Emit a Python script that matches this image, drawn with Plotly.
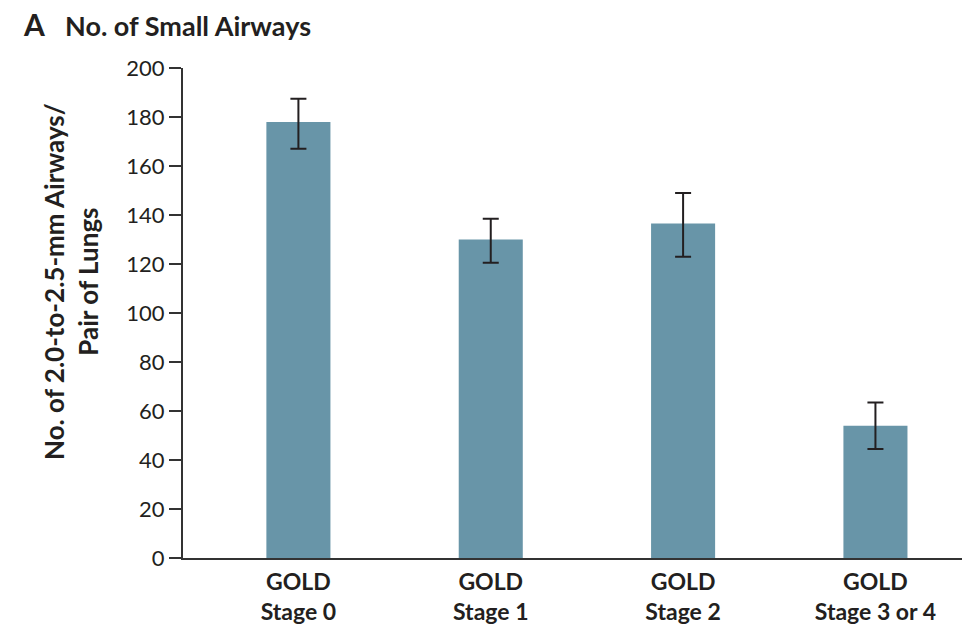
import plotly.graph_objects as go

# Small-airway counts by GOLD stage (mean with SE)
categories = ["GOLD<br>Stage 0", "GOLD<br>Stage 1", "GOLD<br>Stage 2", "GOLD<br>Stage 3 or 4"]
airways = [178, 130, 136.5, 54]
err_plus = [9.5, 8.5, 12.5, 9.5]
err_minus = [11, 9.5, 13.5, 9.5]
y_ticks = [0, 20, 40, 60, 80, 100, 120, 140, 160, 180, 200]

FONT = "Lato"
INK = "#231f20"

fig = go.Figure(
    go.Bar(
        x=list(range(len(categories))),
        y=airways,
        width=0.333,
        marker=dict(color="#6895a8", line=dict(width=0)),
        error_y=dict(
            type="data",
            symmetric=False,
            array=err_plus,
            arrayminus=err_minus,
            color=INK,
            thickness=2,
            width=8,
        ),
    )
)

fig.update_layout(
    width=962,
    height=630,
    margin=dict(l=183, r=0, t=68, b=72),
    plot_bgcolor="white",
    paper_bgcolor="white",
    showlegend=False,
    font=dict(family=FONT, color=INK, size=21),
    xaxis=dict(
        range=[-0.6, 3.45],
        tickmode="array",
        tickvals=list(range(len(categories))),
        ticktext=[f"<b>{c}</b>" for c in categories],
        ticks="",
        showline=True,
        linecolor="#333333",
        linewidth=2,
        showgrid=False,
        zeroline=False,
        tickfont=dict(family=FONT, size=23, color=INK),
        ticklabelstandoff=2,
    ),
    yaxis=dict(
        range=[0, 200],
        tickmode="array",
        tickvals=y_ticks,
        ticks="outside",
        ticklen=12,
        tickwidth=2,
        tickcolor="#333333",
        showline=True,
        linecolor="#333333",
        linewidth=2,
        showgrid=False,
        zeroline=False,
        tickfont=dict(family=FONT, size=22, color=INK),
    ),
    annotations=[
        dict(
            text="<b>A</b>",
            xref="paper", yref="paper",
            x=(21 - 183) / 779, y=1 + (68 - 24) / 490,
            xanchor="left", yanchor="middle",
            showarrow=False,
            font=dict(family=FONT, size=30, color=INK),
        ),
        dict(
            text="<b>No. of Small Airways</b>",
            xref="paper", yref="paper",
            x=(63 - 183) / 779, y=1 + (68 - 25) / 490,
            xanchor="left", yanchor="middle",
            showarrow=False,
            font=dict(family=FONT, size=27, color=INK),
        ),
        dict(
            text="<b>No. of 2.0-to-2.5-mm Airways/<br>Pair of Lungs</b>",
            xref="paper", yref="paper",
            x=(71 - 183) / 779, y=(558 - 282) / 490,
            xanchor="center", yanchor="middle",
            textangle=-90,
            showarrow=False,
            font=dict(family=FONT, size=26, color=INK),
        ),
    ],
)

fig.write_html("out.html")
